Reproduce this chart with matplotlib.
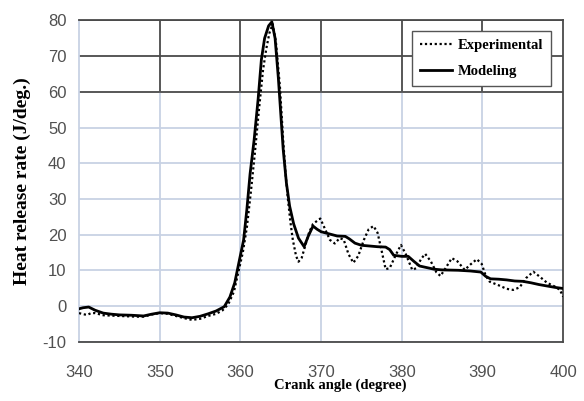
import numpy as np
import matplotlib
matplotlib.use("Agg")
import matplotlib.pyplot as plt

plt.rcParams['axes.unicode_minus'] = False

# crank angle (deg) / heat release rate (J/deg.)
model_x = [340, 340.5, 341.2, 342, 343, 344, 345, 346.5, 348, 349, 350, 351, 352, 353, 354, 355,
           356, 357, 358, 358.7, 359.3, 359.8, 360.4, 360.8, 361.2, 361.7, 362.2, 362.6, 363.0,
           363.5, 363.9, 364.3, 364.7, 365.0, 365.3, 365.7, 366.1, 366.6, 367.2, 367.9, 368.4,
           369.0, 369.5, 370, 371, 372, 373, 373.5, 374.2, 375, 376, 377, 378, 378.5, 379, 380,
           380.8, 381.5, 382.2, 383, 384, 385, 387, 388.5, 389.8, 390.4, 391, 392, 393, 394, 395,
           396, 397, 398, 399, 400]
model_y = [-0.8, -0.5, -0.3, -1.2, -2.0, -2.3, -2.5, -2.6, -2.8, -2.3, -1.9, -2.0, -2.5, -3.1, -3.3, -2.9,
           -2.2, -1.4, -0.2, 2.5, 6.5, 12, 18.5, 27, 37, 46.5, 58, 69, 75,
           78.5, 79.6, 75, 64, 54, 44, 34.5, 28, 23, 19, 16.6, 19.5,
           22.4, 21.5, 20.8, 20.2, 19.6, 19.5, 18.8, 17.6, 17.0, 16.8, 16.6, 16.5, 15.8, 14.2, 13.9,
           13.9, 12.5, 11.2, 10.8, 10.3, 10.1, 10.0, 9.8, 9.5, 8.3, 7.6, 7.5, 7.3, 7.0, 6.9,
           6.5, 6.0, 5.6, 5.2, 4.9]

exp_x = [340, 340.5, 341, 341.5, 342, 343, 345, 347, 348, 349, 350, 351, 352, 353, 354, 355, 356,
         357, 357.8, 358.5, 359.2, 359.8, 360.3, 360.8, 361.3, 361.8, 362.3, 362.8, 363.2, 363.6,
         364.0, 364.4, 364.9, 365.3, 365.6, 365.9, 366.2, 366.5, 366.9, 367.2, 367.6, 368.0, 368.5,
         369.0, 369.9, 370.5, 371.1, 371.7, 372.3, 372.8, 373.4, 374.0, 374.6, 375.3, 375.9, 376.5,
         377.0, 377.5, 378.0, 378.5, 379.3, 379.9, 380.5, 381.3, 381.8, 382.4, 382.9, 383.6, 384.3,
         384.8, 385.4, 386.2, 386.9, 387.8, 388.5, 389.3, 389.9, 390.4, 390.9, 392, 393, 393.8,
         394.6, 395.4, 396.3, 397.1, 398, 399, 399.6, 400]
exp_y = [-2.0, -2.3, -2.5, -2.0, -2.0, -2.6, -2.8, -3.0, -3.0, -2.4, -2.0, -2.2, -2.8, -3.4, -3.9, -3.6, -2.8,
         -2.2, -1.2, 0.5, 4, 10, 15, 22, 32, 43, 55, 66, 72, 76.5,
         79.0, 74, 61.4, 46.5, 37, 29.7, 23.5, 18.5, 14, 12.4, 13.5, 16.6, 20.5,
         23, 24.5, 21.5, 18.5, 17.5, 19.0, 18.6, 14.5, 12.1, 14, 18.5, 21.5, 22.4,
         20.5, 15.5, 10.3, 10.6, 14.5, 17.1, 14.5, 10.1, 10.6, 13.2, 14.6, 12.5, 9.4,
         8.4, 10.5, 13.4, 12.5, 10.1, 11.6, 13.1, 11.8, 8.5, 6.8, 5.8, 4.8, 4.5,
         5.2, 7.8, 9.6, 8.2, 6.5, 5.4, 4.5, 2.6]

x_ticks = [340, 350, 360, 370, 380, 390, 400]
y_ticks = [-10, 0, 10, 20, 30, 40, 50, 60, 70, 80]

tick_font = ['Liberation Sans', 'DejaVu Sans']
label_font = ['Liberation Serif', 'DejaVu Serif']
dark = '#4a4a4a'
light = '#c8d2e4'

fig = plt.figure(figsize=(5.84, 4.01), dpi=100)
ax = fig.add_axes([0.1353, 0.148, 0.829, 0.801])
ax.set_xlim(340, 400)
ax.set_ylim(-10, 80)

# grid: upper part dark, rest light (as in the source image)
for yv in y_ticks:
    ax.axhline(yv, color=dark if yv >= 60 else light, lw=1.3, zorder=1)
for xv in x_ticks[1:-1]:
    ax.axvline(xv, ymin=0, ymax=7/9, color=light, lw=1.3, zorder=1)
    ax.axvline(xv, ymin=7/9, ymax=1, color=dark, lw=1.3, zorder=1)

for s in ['top', 'right', 'bottom']:
    ax.spines[s].set_color(dark)
    ax.spines[s].set_linewidth(1.3)
ax.spines['left'].set_color(light)
ax.spines['left'].set_linewidth(1.3)

ax.plot(exp_x, exp_y, color='black', linestyle=(0, (1, 1.2)), lw=1.6, label='Experimental', zorder=3)
ax.plot(model_x, model_y, color='black', linestyle='-', lw=2.0, label='Modeling', zorder=4)

ax.set_xticks(x_ticks)
ax.set_yticks(y_ticks)
ax.tick_params(length=0, colors='#505050', labelsize=12)
ax.tick_params(axis='x', pad=17)
ax.tick_params(axis='y', pad=9)
for lab in ax.get_xticklabels() + ax.get_yticklabels():
    lab.set_family(tick_font)

ax.set_xlabel('Crank angle (degree)', fontsize=10.5, fontweight='bold', family=label_font)
ax.xaxis.set_label_coords(0.539, -0.115)
ax.set_ylabel('Heat release rate (J/deg.)', fontsize=14, fontweight='bold', family=label_font)
ax.yaxis.set_label_coords(-0.1, 0.5)

leg = ax.legend(loc='upper right', bbox_to_anchor=(0.99, 0.99), fancybox=False,
                framealpha=1, edgecolor='#555555', handlelength=2.2, handletextpad=0.4,
                borderpad=0.55, labelspacing=0.85,
                prop={'family': label_font, 'weight': 'bold', 'size': 10.5})
leg.get_frame().set_linewidth(1.0)

fig.savefig('out.png', dpi=100)
